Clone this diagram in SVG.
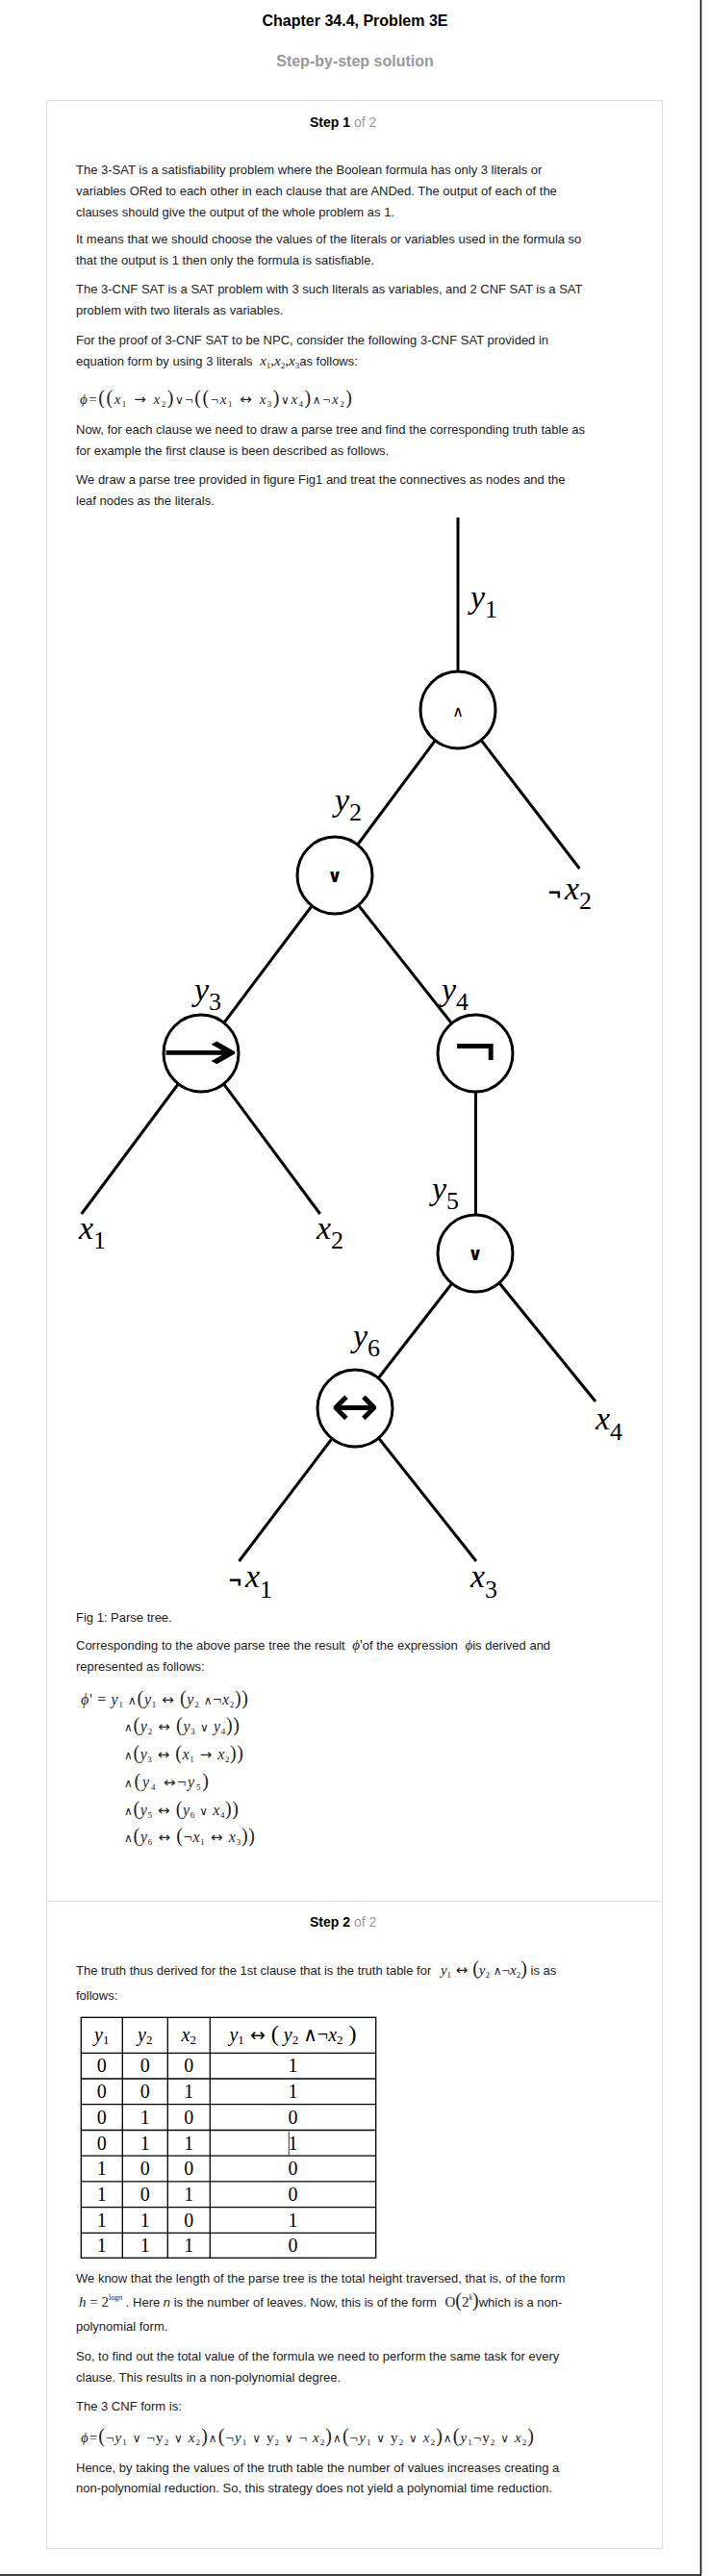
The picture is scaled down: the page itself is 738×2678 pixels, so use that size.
<svg xmlns="http://www.w3.org/2000/svg" width="738" height="2678" viewBox="0 0 738 2678">
<style>
.b{font-family:"Liberation Sans",Arial,sans-serif;font-size:13px;fill:#222}
.h{font-family:"Liberation Sans",Arial,sans-serif;font-weight:bold;font-size:16px;text-anchor:middle}
.st{font-family:"Liberation Sans",Arial,sans-serif;font-weight:bold;font-size:14px;fill:#000}
.g{fill:#999;font-weight:normal}
.m{font-family:"Liberation Serif","DejaVu Serif",serif;font-size:15px;fill:#222}
.m16{font-family:"Liberation Serif","DejaVu Serif",serif;font-size:16px;fill:#222}
.i{font-style:italic}
.sb{font-size:9px}
.sp{font-size:8px}
.p{font-size:20px}
.ar{font-family:"DejaVu Sans",sans-serif;font-size:15px;font-style:normal}
.tar{font-family:"DejaVu Sans",sans-serif;font-size:19px;font-style:normal}
.op{font-family:"DejaVu Sans",sans-serif;font-size:12px;font-style:normal}
.lbl{font-family:"Liberation Serif","DejaVu Serif",serif;font-size:34px;fill:#000}
.ls{font-size:26px;font-style:normal}
.neg{font-family:"Liberation Sans",Arial,sans-serif;font-weight:bold;font-size:22px;fill:#000}
.sym{font-family:"DejaVu Sans",sans-serif;text-anchor:middle;fill:#000}
.node{fill:#fff;stroke:#000;stroke-width:3}
.edge{stroke:#000;stroke-width:3;fill:none}
.tb{stroke:#000;stroke-width:1.3;fill:none}
.td{font-family:"Liberation Serif","DejaVu Serif",serif;font-size:20px;fill:#000;text-anchor:middle}
.tsb{font-size:13px}
</style>
<rect width="738" height="2678" fill="#fff"/>
<line x1="728.5" y1="0" x2="728.5" y2="2677" stroke="#000" stroke-width="1.5"/>
<line x1="0" y1="2677" x2="729" y2="2677" stroke="#000" stroke-width="1.5"/>
<text class="h" x="369" y="27" fill="#000">Chapter 34.4, Problem 3E</text>
<text class="h" x="369" y="69" fill="#999">Step-by-step solution</text>
<rect x="48.5" y="104.5" width="640" height="2545" fill="#fff" stroke="#ddd" stroke-width="1"/>
<line x1="48.5" y1="1976.5" x2="688.5" y2="1976.5" stroke="#ddd" stroke-width="1"/>

<g id="step1-text">
<text class="st" x="322" y="132">Step 1 <tspan class="g">of 2</tspan></text>
<text class="b" x="79" y="181">The 3-SAT is a satisfiability problem where the Boolean formula has only 3 literals or</text>
<text class="b" x="79" y="203">variables ORed to each other in each clause that are ANDed. The output of each of the</text>
<text class="b" x="79" y="225">clauses should give the output of the whole problem as 1.</text>
<text class="b" x="79" y="253">It means that we should choose the values of the literals or variables used in the formula so</text>
<text class="b" x="79" y="275">that the output is 1 then only the formula is satisfiable.</text>
<text class="b" x="79" y="305">The 3-CNF SAT is a SAT problem with 3 such literals as variables, and 2 CNF SAT is a SAT</text>
<text class="b" x="79" y="327">problem with two literals as variables.</text>
<text class="b" x="79" y="358">For the proof of 3-CNF SAT to be NPC, consider the following 3-CNF SAT provided in</text>
<text class="b" x="79" y="380">equation form by using 3 literals <tspan class="m" dx="4"><tspan class="i">x</tspan><tspan class="sb" dy="3">1</tspan><tspan dy="-3">,</tspan><tspan class="i">x</tspan><tspan class="sb" dy="3">2</tspan><tspan dy="-3">,</tspan><tspan class="i">x</tspan><tspan class="sb" dy="3">3</tspan></tspan><tspan dy="-3">as follows:</tspan></text>
<text class="m" x="83" y="420" textLength="283"><tspan class="i">ϕ</tspan>=<tspan class="p">((</tspan><tspan class="i">x</tspan><tspan class="sb" dy="3">1</tspan><tspan class="ar" dy="-3"> → </tspan><tspan class="i">x</tspan><tspan class="sb" dy="3">2</tspan><tspan class="p" dy="-3">)</tspan><tspan class="op">∨</tspan>¬<tspan class="p">((</tspan>¬<tspan class="i">x</tspan><tspan class="sb" dy="3">1</tspan><tspan class="ar" dy="-3"> ↔ </tspan><tspan class="i">x</tspan><tspan class="sb" dy="3">3</tspan><tspan class="p" dy="-3">)</tspan><tspan class="op">∨</tspan><tspan class="i">x</tspan><tspan class="sb" dy="3">4</tspan><tspan class="p" dy="-3">)</tspan><tspan class="op">∧</tspan>¬<tspan class="i">x</tspan><tspan class="sb" dy="3">2</tspan><tspan class="p" dy="-3">)</tspan></text>
<text class="b" x="79" y="451">Now, for each clause we need to draw a parse tree and find the corresponding truth table as</text>
<text class="b" x="79" y="473">for example the first clause is been described as follows.</text>
<text class="b" x="79" y="503">We draw a parse tree provided in figure Fig1 and treat the connectives as nodes and the</text>
<text class="b" x="79" y="525">leaf nodes as the literals.</text>
</g>

<g id="connectors">
<line class="edge" x1="476" y1="538" x2="476" y2="738"/>
<line class="edge" x1="476" y1="738" x2="348" y2="910"/>
<line class="edge" x1="476" y1="738" x2="602.4" y2="903"/>
<line class="edge" x1="348" y1="910" x2="209" y2="1095"/>
<line class="edge" x1="348" y1="910" x2="494" y2="1095"/>
<line class="edge" x1="209" y1="1095" x2="84.7" y2="1262"/>
<line class="edge" x1="209" y1="1095" x2="332.7" y2="1262"/>
<line class="edge" x1="494.5" y1="1095" x2="494.5" y2="1303"/>
<line class="edge" x1="494" y1="1303" x2="369" y2="1464"/>
<line class="edge" x1="494" y1="1303" x2="619" y2="1457"/>
<line class="edge" x1="369" y1="1464" x2="248.5" y2="1623"/>
<line class="edge" x1="369" y1="1464" x2="495" y2="1623"/>
</g>

<g id="node-y1">
<ellipse class="node" cx="476" cy="738" rx="39" ry="40"/>
<text class="sym" x="476" y="745" font-size="16">∧</text>
<text class="lbl" x="489" y="632"><tspan class="i">y</tspan><tspan class="ls" dy="10">1</tspan></text>
</g>
<g id="node-y2">
<ellipse class="node" cx="348" cy="910" rx="39" ry="40"/>
<text class="sym" x="348" y="917" font-size="19" font-weight="bold">∨</text>
<text class="lbl" x="348" y="843"><tspan class="i">y</tspan><tspan class="ls" dy="10">2</tspan></text>
</g>
<g id="node-y3">
<ellipse class="node" cx="209" cy="1095" rx="39" ry="40"/>
<text class="sym" x="0" y="1112" font-size="56" transform="translate(208 0) scale(1.75 1)">→</text>
<text class="lbl" x="202" y="1040"><tspan class="i">y</tspan><tspan class="ls" dy="10">3</tspan></text>
</g>
<g id="node-y4">
<ellipse class="node" cx="494" cy="1095" rx="39" ry="40"/>
<text class="sym" x="494" y="1111" font-size="60">¬</text>
<text class="lbl" x="459" y="1040"><tspan class="i">y</tspan><tspan class="ls" dy="10">4</tspan></text>
</g>
<g id="node-y5">
<ellipse class="node" cx="494" cy="1303" rx="39" ry="40"/>
<text class="sym" x="494" y="1310" font-size="19" font-weight="bold">∨</text>
<text class="lbl" x="449" y="1247"><tspan class="i">y</tspan><tspan class="ls" dy="10">5</tspan></text>
</g>
<g id="node-y6">
<ellipse class="node" cx="369" cy="1464" rx="39" ry="40"/>
<text class="sym" x="369" y="1482" font-size="60">↔</text>
<text class="lbl" x="367" y="1400"><tspan class="i">y</tspan><tspan class="ls" dy="10">6</tspan></text>
</g>
<g id="leaf-negx2">
<text class="neg" x="570" y="935">¬</text>
<text class="lbl" x="587" y="935"><tspan class="i">x</tspan><tspan class="ls" dy="10">2</tspan></text>
</g>
<g id="leaf-x1">
<text class="lbl" x="82" y="1288"><tspan class="i">x</tspan><tspan class="ls" dy="10">1</tspan></text>
</g>
<g id="leaf-x2">
<text class="lbl" x="329" y="1288"><tspan class="i">x</tspan><tspan class="ls" dy="10">2</tspan></text>
</g>
<g id="leaf-x4">
<text class="lbl" x="619" y="1486"><tspan class="i">x</tspan><tspan class="ls" dy="11">4</tspan></text>
</g>
<g id="leaf-negx1">
<text class="neg" x="238" y="1650">¬</text>
<text class="lbl" x="255" y="1650"><tspan class="i">x</tspan><tspan class="ls" dy="11">1</tspan></text>
</g>
<g id="leaf-x3">
<text class="lbl" x="489" y="1650"><tspan class="i">x</tspan><tspan class="ls" dy="11">3</tspan></text>
</g>

<g id="step1-after">
<text class="b" x="79" y="1686">Fig 1: Parse tree.</text>
<text class="b" x="79" y="1715">Corresponding to the above parse tree the result <tspan class="m" dx="4"><tspan class="i">ϕ</tspan>'</tspan>of the expression <tspan class="m i" dx="4">ϕ</tspan>is derived and</text>
<text class="b" x="79" y="1737">represented as follows:</text>
<text class="m16" x="84" y="1772" textLength="174"><tspan class="i">ϕ</tspan>' = <tspan class="i">y</tspan><tspan class="sb" dy="3">1</tspan><tspan class="op" dy="-3"> ∧</tspan><tspan class="p">(</tspan><tspan class="i">y</tspan><tspan class="sb" dy="3">1</tspan><tspan class="ar" dy="-3"> ↔ </tspan><tspan class="p">(</tspan><tspan class="i">y</tspan><tspan class="sb" dy="3">2</tspan><tspan class="op" dy="-3"> ∧</tspan>¬<tspan class="i">x</tspan><tspan class="sb" dy="3">2</tspan><tspan class="p" dy="-3">))</tspan></text>
<text class="m16" x="129" y="1800" textLength="120"><tspan class="op">∧</tspan><tspan class="p">(</tspan><tspan class="i">y</tspan><tspan class="sb" dy="3">2</tspan><tspan class="ar" dy="-3"> ↔ </tspan><tspan class="p">(</tspan><tspan class="i">y</tspan><tspan class="sb" dy="3">3</tspan><tspan class="op" dy="-3"> ∨ </tspan><tspan class="i">y</tspan><tspan class="sb" dy="3">4</tspan><tspan class="p" dy="-3">))</tspan></text>
<text class="m16" x="129" y="1829" textLength="124"><tspan class="op">∧</tspan><tspan class="p">(</tspan><tspan class="i">y</tspan><tspan class="sb" dy="3">3</tspan><tspan class="ar" dy="-3"> ↔ </tspan><tspan class="p">(</tspan><tspan class="i">x</tspan><tspan class="sb" dy="3">1</tspan><tspan class="ar" dy="-3"> → </tspan><tspan class="i">x</tspan><tspan class="sb" dy="3">2</tspan><tspan class="p" dy="-3">))</tspan></text>
<text class="m16" x="129" y="1858" textLength="88"><tspan class="op">∧</tspan><tspan class="p">(</tspan><tspan class="i">y</tspan><tspan class="sb" dy="3">4</tspan><tspan class="ar" dy="-3"> ↔</tspan>¬<tspan class="i">y</tspan><tspan class="sb" dy="3">5</tspan><tspan class="p" dy="-3">)</tspan></text>
<text class="m16" x="129" y="1887" textLength="119"><tspan class="op">∧</tspan><tspan class="p">(</tspan><tspan class="i">y</tspan><tspan class="sb" dy="3">5</tspan><tspan class="ar" dy="-3"> ↔ </tspan><tspan class="p">(</tspan><tspan class="i">y</tspan><tspan class="sb" dy="3">6</tspan><tspan class="op" dy="-3"> ∨ </tspan><tspan class="i">x</tspan><tspan class="sb" dy="3">4</tspan><tspan class="p" dy="-3">))</tspan></text>
<text class="m16" x="129" y="1915" textLength="136"><tspan class="op">∧</tspan><tspan class="p">(</tspan><tspan class="i">y</tspan><tspan class="sb" dy="3">6</tspan><tspan class="ar" dy="-3"> ↔ </tspan><tspan class="p">(</tspan>¬<tspan class="i">x</tspan><tspan class="sb" dy="3">1</tspan><tspan class="ar" dy="-3"> ↔ </tspan><tspan class="i">x</tspan><tspan class="sb" dy="3">3</tspan><tspan class="p" dy="-3">))</tspan></text>
</g>

<g id="step2-text">
<text class="st" x="322" y="2003">Step 2 <tspan class="g">of 2</tspan></text>
<text class="b" x="79" y="2053">The truth thus derived for the 1st clause that is the truth table for <tspan class="m" dx="6"><tspan class="i">y</tspan><tspan class="sb" dy="3">1</tspan><tspan class="ar" dy="-3"> ↔ </tspan><tspan class="p">(</tspan><tspan class="i">y</tspan><tspan class="sb" dy="3">2</tspan><tspan class="op" dy="-3"> ∧</tspan>¬<tspan class="i">x</tspan><tspan class="sb" dy="3">2</tspan><tspan class="p" dy="-3">)</tspan></tspan> is as</text>
<text class="b" x="79" y="2079">follows:</text>
</g>

<g id="truth-table">
<rect class="tb" x="84.3" y="2097.3" width="306.4" height="250"/>
<line class="tb" x1="127.3" y1="2097.3" x2="127.3" y2="2347.3"/>
<line class="tb" x1="174.3" y1="2097.3" x2="174.3" y2="2347.3"/>
<line class="tb" x1="218.3" y1="2097.3" x2="218.3" y2="2347.3"/>
<line class="tb" x1="84.3" y1="2134.3" x2="390.7" y2="2134.3"/>
<line class="tb" x1="84.3" y1="2161" x2="390.7" y2="2161"/>
<line class="tb" x1="84.3" y1="2187.7" x2="390.7" y2="2187.7"/>
<line class="tb" x1="84.3" y1="2214.5" x2="390.7" y2="2214.5"/>
<line class="tb" x1="84.3" y1="2241.2" x2="390.7" y2="2241.2"/>
<line class="tb" x1="84.3" y1="2267.9" x2="390.7" y2="2267.9"/>
<line class="tb" x1="84.3" y1="2294.6" x2="390.7" y2="2294.6"/>
<line class="tb" x1="84.3" y1="2321.3" x2="390.7" y2="2321.3"/>
<line x1="300.3" y1="2216" x2="300.3" y2="2240.5" stroke="#000" stroke-width="0.8"/>
<text class="td" x="105.8" y="2122"><tspan class="i">y</tspan><tspan class="tsb" dy="3">1</tspan></text>
<text class="td" x="150.8" y="2122"><tspan class="i">y</tspan><tspan class="tsb" dy="3">2</tspan></text>
<text class="td" x="196.3" y="2122"><tspan class="i">x</tspan><tspan class="tsb" dy="3">2</tspan></text>
<text class="td" x="304.5" y="2122"><tspan class="i">y</tspan><tspan class="tsb" dy="3">1</tspan><tspan class="tar" dy="-3"> ↔ </tspan><tspan font-size="24">(</tspan><tspan class="i"> y</tspan><tspan class="tsb" dy="3">2</tspan><tspan dy="-3"> ∧¬</tspan><tspan class="i">x</tspan><tspan class="tsb" dy="3">2</tspan><tspan font-size="24" dy="-3"> )</tspan></text>
<g id="row1"><text class="td" x="105.8" y="2154.3">0</text><text class="td" x="150.8" y="2154.3">0</text><text class="td" x="196.3" y="2154.3">0</text><text class="td" x="304.5" y="2154.3">1</text></g>
<g id="row2"><text class="td" x="105.8" y="2181">0</text><text class="td" x="150.8" y="2181">0</text><text class="td" x="196.3" y="2181">1</text><text class="td" x="304.5" y="2181">1</text></g>
<g id="row3"><text class="td" x="105.8" y="2207.7">0</text><text class="td" x="150.8" y="2207.7">1</text><text class="td" x="196.3" y="2207.7">0</text><text class="td" x="304.5" y="2207.7">0</text></g>
<g id="row4"><text class="td" x="105.8" y="2234.5">0</text><text class="td" x="150.8" y="2234.5">1</text><text class="td" x="196.3" y="2234.5">1</text><text class="td" x="304.5" y="2234.5">1</text></g>
<g id="row5"><text class="td" x="105.8" y="2261.2">1</text><text class="td" x="150.8" y="2261.2">0</text><text class="td" x="196.3" y="2261.2">0</text><text class="td" x="304.5" y="2261.2">0</text></g>
<g id="row6"><text class="td" x="105.8" y="2287.9">1</text><text class="td" x="150.8" y="2287.9">0</text><text class="td" x="196.3" y="2287.9">1</text><text class="td" x="304.5" y="2287.9">0</text></g>
<g id="row7"><text class="td" x="105.8" y="2314.6">1</text><text class="td" x="150.8" y="2314.6">1</text><text class="td" x="196.3" y="2314.6">0</text><text class="td" x="304.5" y="2314.6">1</text></g>
<g id="row8"><text class="td" x="105.8" y="2341">1</text><text class="td" x="150.8" y="2341">1</text><text class="td" x="196.3" y="2341">1</text><text class="td" x="304.5" y="2341">0</text></g>
</g>

<g id="step2-after">
<text class="b" x="79" y="2373">We know that the length of the parse tree is the total height traversed, that is, of the form</text>
<text class="b" x="82" y="2398"><tspan class="m"><tspan class="i">h</tspan> = 2</tspan><tspan class="m sp" dy="-7">log<tspan class="i">n</tspan></tspan><tspan dy="7"> . Here </tspan><tspan class="i">n</tspan> is the number of leaves. Now, this is of the form <tspan class="m" dx="5">O<tspan class="p">(</tspan>2</tspan><tspan class="m sp i" dy="-7">k</tspan><tspan class="m p" dy="7">)</tspan>which is a non-</text>
<text class="b" x="79" y="2423">polynomial form.</text>
<text class="b" x="79" y="2454">So, to find out the total value of the formula we need to perform the same task for every</text>
<text class="b" x="79" y="2476">clause. This results in a non-polynomial degree.</text>
<text class="b" x="79" y="2506">The 3 CNF form is:</text>
<text class="m" x="84" y="2539" textLength="471"><tspan class="i">ϕ</tspan>=<tspan class="p">(</tspan>¬<tspan class="i">y</tspan><tspan class="sb" dy="3">1</tspan><tspan class="op" dy="-3"> ∨ </tspan>¬y<tspan class="sb" dy="3">2</tspan><tspan class="op" dy="-3"> ∨ </tspan><tspan class="i">x</tspan><tspan class="sb" dy="3">2</tspan><tspan class="p" dy="-3">)</tspan><tspan class="op">∧</tspan><tspan class="p">(</tspan>¬<tspan class="i">y</tspan><tspan class="sb" dy="3">1</tspan><tspan class="op" dy="-3"> ∨ </tspan> y<tspan class="sb" dy="3">2</tspan><tspan class="op" dy="-3"> ∨ </tspan>¬ <tspan class="i">x</tspan><tspan class="sb" dy="3">2</tspan><tspan class="p" dy="-3">)</tspan><tspan class="op">∧</tspan><tspan class="p">(</tspan>¬<tspan class="i">y</tspan><tspan class="sb" dy="3">1</tspan><tspan class="op" dy="-3"> ∨ </tspan>y<tspan class="sb" dy="3">2</tspan><tspan class="op" dy="-3"> ∨ </tspan> <tspan class="i">x</tspan><tspan class="sb" dy="3">2</tspan><tspan class="p" dy="-3">)</tspan><tspan class="op">∧</tspan><tspan class="p">(</tspan><tspan class="i">y</tspan><tspan class="sb" dy="3">1</tspan><tspan dy="-3">¬y</tspan><tspan class="sb" dy="3">2</tspan><tspan class="op" dy="-3"> ∨ </tspan> <tspan class="i">x</tspan><tspan class="sb" dy="3">2</tspan><tspan class="p" dy="-3">)</tspan></text>
<text class="b" x="79" y="2570">Hence, by taking the values of the truth table the number of values increases creating a</text>
<text class="b" x="79" y="2591">non-polynomial reduction. So, this strategy does not yield a polynomial time reduction.</text>
</g>
</svg>
